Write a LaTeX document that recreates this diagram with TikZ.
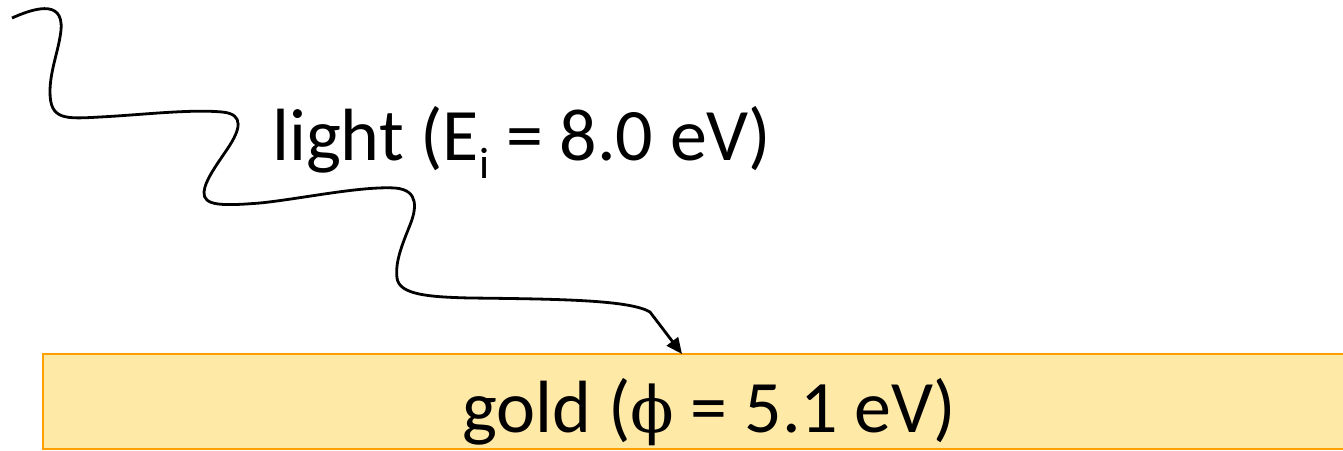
\RequirePackage{fix-cm}
\documentclass[tikz,border=0pt]{standalone}
\usepackage{fontspec}
\setmainfont{Carlito}
\newfontfamily\phifont{DejaVu Serif}
\usetikzlibrary{arrows.meta}
\definecolor{goldfill}{RGB}{255,233,166}
\definecolor{goldedge}{RGB}{255,160,0}
\tikzset{
  slab/.style={fill=goldfill,draw=goldedge,line width=2pt},
  wave/.style={line width=2.8pt,line join=round,-{Triangle[length=16pt,width=14pt]}},
  bigtext/.style={inner sep=0pt,anchor=base west,font=\fontsize{74}{88}\selectfont}
}
\begin{document}
\begin{tikzpicture}[x=1pt,y=-1pt]
\useasboundingbox (0,0) rectangle (1343,450);
\begin{scope}
\clip (0,0) rectangle (1343,450);
\path[slab] (43,354) rectangle (1360,449) coordinate (slabcorner);
\end{scope}
\coordinate (slabtop) at (43,354);
\node[bigtext] (goldlabel) at (462,432) {gold ({\phifont\fontsize{64}{64}\selectfont ϕ} = 5.1 eV)};
\node[bigtext] (lightlabel) at (272,160) {light (E\raisebox{-18pt}{\fontsize{44}{44}\selectfont i} = 8.0 eV)};
\coordinate (src) at (12,18);
\coordinate (hit) at (682,354);
\draw[wave] (src)
  .. controls (30,10) and (64,-3) .. (61,30)
  .. controls (59,50) and (50,70) .. (50,92)
  .. controls (50,120) and (65,119) .. (100,117)
  .. controls (140,115) and (190,109) .. (222,112)
  .. controls (245,114) and (240,130) .. (228,148)
  .. controls (218,163) and (205,180) .. (204,192)
  .. controls (203,206) and (222,206) .. (260,203)
  .. controls (300,199) and (360,186) .. (395,188)
  .. controls (420,190) and (416,210) .. (410,225)
  .. controls (402,245) and (395,262) .. (397,278)
  .. controls (399,295) and (430,297) .. (470,298)
  .. controls (560,299) and (630,300) .. (650,312)
  -- (hit);
\end{tikzpicture}
\end{document}
